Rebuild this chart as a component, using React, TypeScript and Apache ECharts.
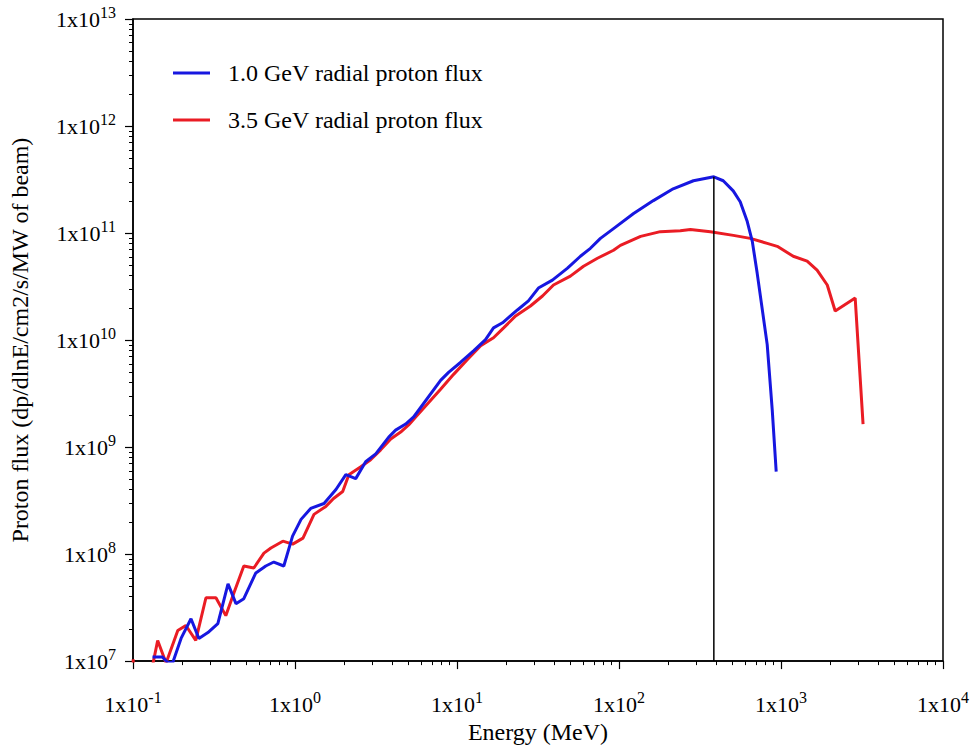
import React, { useEffect, useRef } from "react";
import * as echarts from "echarts";

// ---- data ----
const seriesNames = ["1.0 GeV radial proton flux", "3.5 GeV radial proton flux"];

const energyBlue = [0.132, 0.152, 0.164, 0.176, 0.198, 0.228, 0.255, 0.29, 0.334, 0.386, 0.432, 0.483, 0.573, 0.66, 0.74, 0.853, 0.966, 1.09, 1.25, 1.51, 1.79, 2.06, 2.37, 2.73, 3.15, 3.79, 4.18, 4.82, 5.4, 7.92, 8.87, 10.5, 12.7, 15.0, 16.8, 19.1, 23.6, 27.6, 31.8, 38.8, 48.1, 57.8, 66.6, 76.8, 92.5, 123, 163, 216, 288, 385, 440, 507, 560, 619, 665, 713, 822, 883, 934];
const fluxBlue = [1.09e7, 1.09e7, 9.7e6, 9.7e6, 1.63e7, 2.49e7, 1.63e7, 1.85e7, 2.24e7, 5.27e7, 3.44e7, 3.83e7, 6.67e7, 7.74e7, 8.43e7, 7.74e7, 1.47e8, 2.11e8, 2.67e8, 2.97e8, 4.01e8, 5.52e8, 5.07e8, 7.29e8, 8.65e8, 1.24e9, 1.44e9, 1.64e9, 1.91e9, 4.2e9, 4.99e9, 6.17e9, 7.97e9, 1.01e10, 1.3e10, 1.45e10, 1.91e10, 2.32e10, 3.06e10, 3.63e10, 4.7e10, 6.07e10, 7.2e10, 8.91e10, 1.1e11, 1.52e11, 2.01e11, 2.59e11, 3.08e11, 3.35e11, 3.08e11, 2.48e11, 1.96e11, 1.28e11, 8.36e10, 4.2e10, 9.06e9, 2.21e9, 5.89e8];

const energyRed = [0.1, 0.104, 0.125, 0.142, 0.16, 0.189, 0.212, 0.244, 0.282, 0.325, 0.374, 0.42, 0.483, 0.557, 0.643, 0.71, 0.841, 0.968, 1.12, 1.31, 1.55, 1.73, 1.97, 2.15, 2.55, 2.93, 3.38, 3.9, 4.49, 5.03, 5.56, 7.92, 9.53, 11.6, 14.0, 16.8, 19.4, 23.0, 28.4, 33.7, 39.4, 50.1, 60.4, 73.6, 92.5, 102, 136, 180, 239, 276, 366, 508, 646, 822, 948, 1190, 1450, 1670, 1930, 2160, 2870, 3210];
const fluxRed = [1.04e7, 6e6, 6e6, 1.56e7, 9.6e6, 1.93e7, 2.15e7, 1.56e7, 3.91e7, 3.91e7, 2.66e7, 4.35e7, 7.74e7, 7.41e7, 1.02e8, 1.14e8, 1.32e8, 1.24e8, 1.41e8, 2.35e8, 2.79e8, 3.31e8, 3.84e8, 5.52e8, 6.55e8, 7.61e8, 9.42e8, 1.19e9, 1.38e9, 1.61e9, 1.91e9, 3.47e9, 4.78e9, 6.58e9, 8.87e9, 1.05e10, 1.3e10, 1.68e10, 2.08e10, 2.58e10, 3.27e10, 3.96e10, 4.9e10, 5.81e10, 6.9e10, 7.67e10, 9.3e10, 1.03e11, 1.05e11, 1.08e11, 1.03e11, 9.51e10, 8.91e10, 8.01e10, 7.51e10, 6.07e10, 5.46e10, 4.5e10, 3.27e10, 1.87e10, 2.47e10, 1.64e9];

// vertical marker line at the 1.0 GeV peak
const peakLineEnergy = [385, 385];
const peakLineFlux = [1e7, 3.35e11];

// tick labels (powers of ten)
const xTickExponents = [-1, 0, 1, 2, 3, 4];
const yTickExponents = [7, 8, 9, 10, 11, 12, 13];
const minorMultipliers = [2, 3, 4, 5, 6, 7, 8, 9];

const FONT = "Liberation Serif";
const BLUE = "#1717e0";
const RED = "#ea1c24";

function majorValues(exps: number[]) {
  return exps.map((e) => Math.pow(10, e));
}
function minorValues(exps: number[]) {
  const out: number[] = [];
  for (let i = 0; i < exps.length - 1; i++) {
    for (const m of minorMultipliers) out.push(m * Math.pow(10, exps[i]));
  }
  return out;
}
function pairs(xs: number[], ys: number[]) {
  return xs.map((x, i) => [x, ys[i]]);
}
function powLabel(v: number) {
  const e = Math.round(Math.log10(v));
  return "{b|1x10}{s|" + e + "}";
}
const richLabel = {
  b: { fontFamily: FONT, fontSize: 22, color: "#000" },
  s: { fontFamily: FONT, fontSize: 16, color: "#000", padding: [0, 0, 14, 0] },
};

export default function App() {
  const ref = useRef<HTMLDivElement>(null);
  useEffect(() => {
    if (!ref.current) return;
    const chart = echarts.init(ref.current, undefined, { renderer: "svg" });
    const xMin = Math.pow(10, xTickExponents[0]);
    const xMax = Math.pow(10, xTickExponents[xTickExponents.length - 1]);
    const yMin = Math.pow(10, yTickExponents[0]);
    const yMax = Math.pow(10, yTickExponents[yTickExponents.length - 1]);
    const axisLine = { show: true, lineStyle: { color: "#000", width: 1.5 } };
    chart.setOption({
      animation: false,
      backgroundColor: "#fff",
      grid: {
        left: 131,
        right: 29,
        top: 19,
        bottom: 83,
        show: true,
        borderColor: "#000",
        borderWidth: 1.5,
        backgroundColor: "transparent",
      },
      legend: {
        data: seriesNames,
        orient: "vertical",
        left: 173,
        top: 61,
        padding: 0,
        icon: "rect",
        itemWidth: 37,
        itemHeight: 3,
        itemGap: 23,
        textStyle: { fontFamily: FONT, fontSize: 24, color: "#000", padding: [0, 0, 0, 13] },
      },
      xAxis: [
        {
          type: "log",
          logBase: 10,
          min: xMin,
          max: xMax,
          name: "Energy (MeV)",
          nameLocation: "middle",
          nameGap: 56,
          nameTextStyle: { fontFamily: FONT, fontSize: 24, color: "#000" },
          axisLine,
          axisTick: { show: true, length: 8, lineStyle: { color: "#000", width: 1.2 } },
          axisLabel: { margin: 28, formatter: powLabel, rich: richLabel, customValues: majorValues(xTickExponents) },
          splitLine: { show: false },
          minorTick: { show: false },
        },
        {
          type: "log",
          logBase: 10,
          min: xMin,
          max: xMax,
          position: "bottom",
          axisLine: { show: false },
          axisTick: { show: true, length: 4, lineStyle: { color: "#000", width: 1 }, customValues: minorValues(xTickExponents) },
          axisLabel: { show: false },
          splitLine: { show: false },
        },
      ],
      yAxis: [
        {
          type: "log",
          logBase: 10,
          min: yMin,
          max: yMax,
          name: "Proton flux (dp/dlnE/cm2/s/MW of beam)",
          nameLocation: "middle",
          nameGap: 101,
          nameTextStyle: { fontFamily: FONT, fontSize: 24, color: "#000" },
          axisLine,
          axisTick: { show: true, length: 8, lineStyle: { color: "#000", width: 1.2 } },
          axisLabel: { margin: 17, formatter: powLabel, rich: richLabel, customValues: majorValues(yTickExponents) },
          splitLine: { show: false },
          minorTick: { show: false },
        },
        {
          type: "log",
          logBase: 10,
          min: yMin,
          max: yMax,
          position: "left",
          axisLine: { show: false },
          axisTick: { show: true, length: 4, lineStyle: { color: "#000", width: 1 }, customValues: minorValues(yTickExponents) },
          axisLabel: { show: false },
          splitLine: { show: false },
        },
      ],
      series: [
        {
          name: seriesNames[0],
          type: "line",
          data: pairs(energyBlue, fluxBlue),
          symbol: "none",
          clip: true,
          color: BLUE,
          lineStyle: { color: BLUE, width: 3 },
          z: 3,
        },
        {
          name: seriesNames[1],
          type: "line",
          data: pairs(energyRed, fluxRed),
          symbol: "none",
          clip: true,
          color: RED,
          lineStyle: { color: RED, width: 3 },
          z: 2,
        },
        {
          name: "peak",
          type: "line",
          data: pairs(peakLineEnergy, peakLineFlux),
          symbol: "none",
          clip: true,
          lineStyle: { color: "#000", width: 1.5 },
          z: 4,
        },
      ],
    });
    return () => chart.dispose();
  }, []);
  return <div ref={ref} style={{ position: "fixed", left: 0, top: 0, width: 972, height: 749 }} />;
}
